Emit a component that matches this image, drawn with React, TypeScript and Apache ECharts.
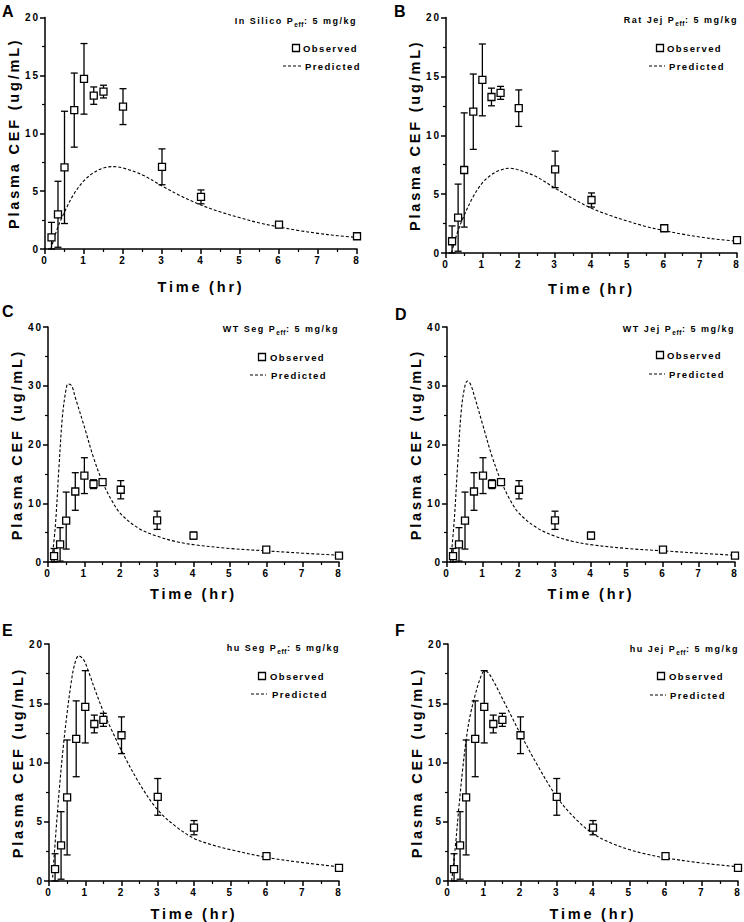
import React, { useEffect, useRef } from "react";
import * as echarts from "echarts";

// ---------- data ----------
const OBS_TIME = [0.167, 0.333, 0.5, 0.75, 1, 1.25, 1.5, 2, 3, 4, 6, 8];
const OBS_MEAN = [1.0, 3.0, 7.05, 12.0, 14.7, 13.25, 13.6, 12.3, 7.1, 4.5, 2.1, 1.1];
const OBS_SD = [1.3, 2.85, 4.85, 3.2, 3.05, 0.75, 0.55, 1.55, 1.55, 0.6, 0.25, 0.1];

const PRED_A_T = [0.15, 0.25, 0.33, 0.5, 0.75, 1.0, 1.25, 1.5, 1.75, 2.0, 2.5, 3.0, 3.5, 4.0, 4.5, 5.0, 5.5, 6.0, 6.5, 7.0, 7.5, 8.0];
const PRED_A_V = [0, 1.1, 1.9, 3.2, 4.8, 5.9, 6.6, 7.0, 7.12, 7.0, 6.4, 5.45, 4.55, 3.8, 3.2, 2.7, 2.25, 1.9, 1.6, 1.35, 1.15, 1.0];

const PRED_B_T = [0.15, 0.25, 0.33, 0.5, 0.75, 1.0, 1.25, 1.5, 1.75, 2.0, 2.5, 3.0, 3.5, 4.0, 4.5, 5.0, 5.5, 6.0, 6.5, 7.0, 7.5, 8.0];
const PRED_B_V = [0, 1.1, 1.9, 3.2, 4.8, 5.95, 6.65, 7.05, 7.2, 7.05, 6.45, 5.5, 4.6, 3.8, 3.2, 2.7, 2.25, 1.9, 1.6, 1.35, 1.15, 1.0];

const PRED_C_T = [0.1, 0.2, 0.3, 0.4, 0.5, 0.55, 0.65, 0.75, 1.0, 1.25, 1.5, 1.75, 2.0, 2.5, 3.0, 3.5, 4.0, 5.0, 6.0, 7.0, 8.0];
const PRED_C_V = [0, 6, 16, 25, 29.5, 30.3, 30.0, 28.0, 23.0, 17.8, 13.6, 10.5, 8.2, 5.7, 4.4, 3.5, 2.95, 2.3, 1.9, 1.5, 1.15];

const PRED_D_T = [0.1, 0.2, 0.3, 0.4, 0.5, 0.57, 0.65, 0.75, 1.0, 1.25, 1.5, 1.75, 2.0, 2.5, 3.0, 3.5, 4.0, 5.0, 6.0, 7.0, 8.0];
const PRED_D_V = [0, 7, 17, 26, 30.0, 30.8, 30.3, 28.5, 23.2, 18.0, 13.8, 10.6, 8.3, 5.8, 4.4, 3.5, 2.95, 2.3, 1.9, 1.5, 1.15];

const PRED_E_T = [0.1, 0.2, 0.3, 0.4, 0.5, 0.6, 0.7, 0.82, 0.95, 1.1, 1.25, 1.5, 1.75, 2.0, 2.5, 3.0, 3.5, 4.0, 4.5, 5.0, 6.0, 7.0, 8.0];
const PRED_E_V = [0.3, 4.5, 8.3, 11.5, 14.2, 16.5, 18.2, 19.0, 18.7, 17.6, 16.3, 14.3, 12.6, 11.0, 8.2, 6.0, 4.6, 3.6, 3.05, 2.65, 2.0, 1.55, 1.2];

const PRED_F_T = [0.1, 0.2, 0.3, 0.4, 0.5, 0.6, 0.75, 0.9, 1.0, 1.1, 1.25, 1.5, 1.75, 2.0, 2.5, 3.0, 3.5, 4.0, 4.5, 5.0, 5.5, 6.0, 7.0, 8.0];
const PRED_F_V = [0, 2.8, 6.2, 9.3, 11.9, 13.8, 15.7, 17.2, 17.7, 17.6, 16.9, 15.4, 13.9, 12.4, 9.6, 7.1, 5.3, 4.0, 3.2, 2.65, 2.25, 1.95, 1.52, 1.2];

const PANEL_LETTERS = ["A", "B", "C", "D", "E", "F"];
const PANEL_MODELS = ["In Silico", "Rat Jej", "WT Seg", "WT Jej", "hu Seg", "hu Jej"];
const PRED_T = [PRED_A_T, PRED_B_T, PRED_C_T, PRED_D_T, PRED_E_T, PRED_F_T];
const PRED_V = [PRED_A_V, PRED_B_V, PRED_C_V, PRED_D_V, PRED_E_V, PRED_F_V];
const Y_MAX = [20, 20, 40, 40, 20, 20];
const Y_INTERVAL = [5, 5, 10, 10, 5, 5];
const X_MAX = 8;
const X_INTERVAL = 1;
const DOSE_TEXT = ": 5 mg/kg";
const X_TITLE = "Time (hr)";
const Y_TITLE = "Plasma CEF (ug/mL)";
const LEGEND_OBS = "Observed";
const LEGEND_PRED = "Predicted";

// ---------- layout (pixels) ----------
const GRIDS = [
  { l: 45, r: 357, t: 17.5, b: 249, xg: 30, yg: 24, lx: 2, ly: 3 },
  { l: 446, r: 737, t: 17.5, b: 253, xg: 28, yg: 24, lx: 394, ly: 3 },
  { l: 48, r: 339, t: 327, b: 562, xg: 24, yg: 24, lx: 2, ly: 303 },
  { l: 447, r: 735, t: 327, b: 562, xg: 24, yg: 24, lx: 395, ly: 306 },
  { l: 49, r: 339, t: 644, b: 881, xg: 25, yg: 24, lx: 2, ly: 622 },
  { l: 448, r: 738, t: 644, b: 881, xg: 25, yg: 24, lx: 395, ly: 622 },
];
const LEG = [
  { tr: 357, ty: 21, ox: 303, oy: 48, sx: 296, px: 305, py: 66, d1: 283, d2: 301 },
  { tr: 738, ty: 20, ox: 667, oy: 48, sx: 660, px: 669, py: 66, d1: 649, d2: 665 },
  { tr: 339, ty: 329, ox: 270, oy: 357, sx: 262, px: 271, py: 375, d1: 250, d2: 266 },
  { tr: 735, ty: 329, ox: 667, oy: 355, sx: 660, px: 669, py: 374, d1: 649, d2: 665 },
  { tr: 340, ty: 648, ox: 270, oy: 676, sx: 262, px: 272, py: 694, d1: 251, d2: 267 },
  { tr: 739, ty: 649, ox: 669, oy: 676, sx: 661, px: 670, py: 695, d1: 650, d2: 666 },
];

const FONT = "'Liberation Sans', Arial, Helvetica, sans-serif";
const CSS = `
.pk text[style*="14.5px"] { letter-spacing: 2.8px; }
.pk text[style*="10px"] { letter-spacing: 2px; }
.pk text[style*="9.5px"] { letter-spacing: 1.4px; }
.pk text[style*="9px"] { letter-spacing: 1.5px; }
.pk text[style*="6.5px"] { letter-spacing: 0.6px; }
`;
const SP_TITLE = 1.5;
const SP_SUB = 0.6;

let measureCtx: CanvasRenderingContext2D | null = null;
function textW(str: string, size: number, spacing: number) {
  if (!measureCtx) measureCtx = document.createElement("canvas").getContext("2d");
  measureCtx!.font = `bold ${size}px ${FONT}`;
  return measureCtx!.measureText(str).width + spacing * str.length;
}

function buildOption() {
  const grid: any[] = [];
  const xAxis: any[] = [];
  const yAxis: any[] = [];
  const series: any[] = [];
  const graphic: any[] = [];
  const black = "#000";

  GRIDS.forEach((g, i) => {
    grid.push({ left: g.l, top: g.t, width: g.r - g.l, height: g.b - g.t, containLabel: false, outerBoundsMode: "none" });
    const common = {
      gridIndex: i,
      type: "value",
      min: 0,
      axisLine: { show: true, onZero: false, lineStyle: { color: black, width: 1.5 } },
      axisTick: { show: true, inside: false, length: 5, lineStyle: { color: black, width: 1.5 } },
      minorTick: { show: true, splitNumber: 2, length: 3, lineStyle: { color: black, width: 1.2 } },
      splitLine: { show: false },
      minorSplitLine: { show: false },
      nameLocation: "middle",
      nameTextStyle: { color: black, fontSize: 14.5, fontWeight: "bold", fontFamily: FONT },
    };
    xAxis.push({
      ...common,
      max: X_MAX,
      interval: X_INTERVAL,
      name: X_TITLE,
      nameGap: g.xg,
      axisLabel: { color: black, fontSize: 10, fontWeight: "bold", fontFamily: FONT, margin: 6 },
    });
    yAxis.push({
      ...common,
      max: Y_MAX[i],
      interval: Y_INTERVAL[i],
      name: Y_TITLE,
      nameGap: g.yg,
      axisLabel: { color: black, fontSize: 10, fontWeight: "bold", fontFamily: FONT, margin: 5 },
    });

    series.push({
      type: "line",
      name: LEGEND_PRED,
      xAxisIndex: i,
      yAxisIndex: i,
      data: PRED_T[i].map((t, k) => [t, PRED_V[i][k]]),
      smooth: 0.35,
      symbol: "none",
      lineStyle: { color: black, width: 1.1, type: [3, 2] },
      z: 2,
    });
    series.push({
      type: "custom",
      name: "Observed SD",
      xAxisIndex: i,
      yAxisIndex: i,
      data: OBS_TIME.map((t, k) => [t, OBS_MEAN[k], OBS_SD[k]]),
      encode: { x: 0, y: 1 },
      z: 3,
      renderItem: (params: any, api: any) => {
        const t = api.value(0);
        const m = api.value(1);
        const sd = api.value(2);
        const hi = api.coord([t, m + sd]);
        const lo = api.coord([t, Math.max(0, m - sd)]);
        const cw = 3.5;
        const st = { stroke: black, lineWidth: 1.3 };
        return {
          type: "group",
          children: [
            { type: "line", shape: { x1: hi[0], y1: hi[1], x2: lo[0], y2: lo[1] }, style: st },
            { type: "line", shape: { x1: hi[0] - cw, y1: hi[1], x2: hi[0] + cw, y2: hi[1] }, style: st },
            { type: "line", shape: { x1: lo[0] - cw, y1: lo[1], x2: lo[0] + cw, y2: lo[1] }, style: st },
          ],
        };
      },
    });
    series.push({
      type: "scatter",
      name: LEGEND_OBS,
      xAxisIndex: i,
      yAxisIndex: i,
      data: OBS_TIME.map((t, k) => [t, OBS_MEAN[k]]),
      symbol: "rect",
      symbolSize: 7,
      itemStyle: { color: "#fff", borderColor: black, borderWidth: 1.3, opacity: 1 },
      z: 4,
    });

    // panel letter
    graphic.push({
      type: "text",
      x: g.lx,
      y: g.ly,
      style: { text: PANEL_LETTERS[i], fontSize: 16, fontWeight: "bold", fontFamily: FONT, fill: black, textVerticalAlign: "top" },
    });

    // annotation title: "<model> P_eff: 5 mg/kg"
    const L = LEG[i];
    const part1 = PANEL_MODELS[i] + " P";
    const w3 = textW(DOSE_TEXT, 9, SP_TITLE);
    const w2 = textW("eff", 6.5, SP_SUB);
    graphic.push({
      type: "text",
      x: L.tr,
      y: L.ty,
      style: { text: DOSE_TEXT, fontSize: 9, fontWeight: "bold", fontFamily: FONT, fill: black, textAlign: "right", textVerticalAlign: "middle" },
    });
    graphic.push({
      type: "text",
      x: L.tr - w3,
      y: L.ty + 3,
      style: { text: "eff", fontSize: 6.5, fontWeight: "bold", fontFamily: FONT, fill: black, textAlign: "right", textVerticalAlign: "middle" },
    });
    graphic.push({
      type: "text",
      x: L.tr - w3 - w2,
      y: L.ty,
      style: { text: part1, fontSize: 9, fontWeight: "bold", fontFamily: FONT, fill: black, textAlign: "right", textVerticalAlign: "middle" },
    });

    // legend
    graphic.push({
      type: "rect",
      shape: { x: L.sx - 3.5, y: L.oy - 3.5, width: 7, height: 7 },
      style: { fill: "#fff", stroke: black, lineWidth: 1.3 },
    });
    graphic.push({
      type: "text",
      x: L.ox,
      y: L.oy,
      style: { text: LEGEND_OBS, fontSize: 9.5, fontWeight: "bold", fontFamily: FONT, fill: black, textAlign: "left", textVerticalAlign: "middle" },
    });
    graphic.push({
      type: "line",
      shape: { x1: L.d1, y1: L.py, x2: L.d2, y2: L.py },
      style: { stroke: black, lineWidth: 1.1, lineDash: [3, 2] },
    });
    graphic.push({
      type: "text",
      x: L.px,
      y: L.py,
      style: { text: LEGEND_PRED, fontSize: 9.5, fontWeight: "bold", fontFamily: FONT, fill: black, textAlign: "left", textVerticalAlign: "middle" },
    });
  });

  return {
    animation: false,
    backgroundColor: "#fff",
    textStyle: { fontFamily: FONT },
    grid,
    xAxis,
    yAxis,
    series,
    graphic,
  };
}

export default function App() {
  const ref = useRef<HTMLDivElement>(null);
  useEffect(() => {
    if (!ref.current) return;
    const chart = echarts.init(ref.current, undefined, { renderer: "svg" });
    chart.setOption(buildOption() as any);
    return () => chart.dispose();
  }, []);
  return (
    <>
      <style>{CSS}</style>
      <div
        ref={ref}
        className="pk"
        style={{ position: "absolute", left: 0, top: 0, width: 744, height: 922, background: "#fff" }}
      />
    </>
  );
}
